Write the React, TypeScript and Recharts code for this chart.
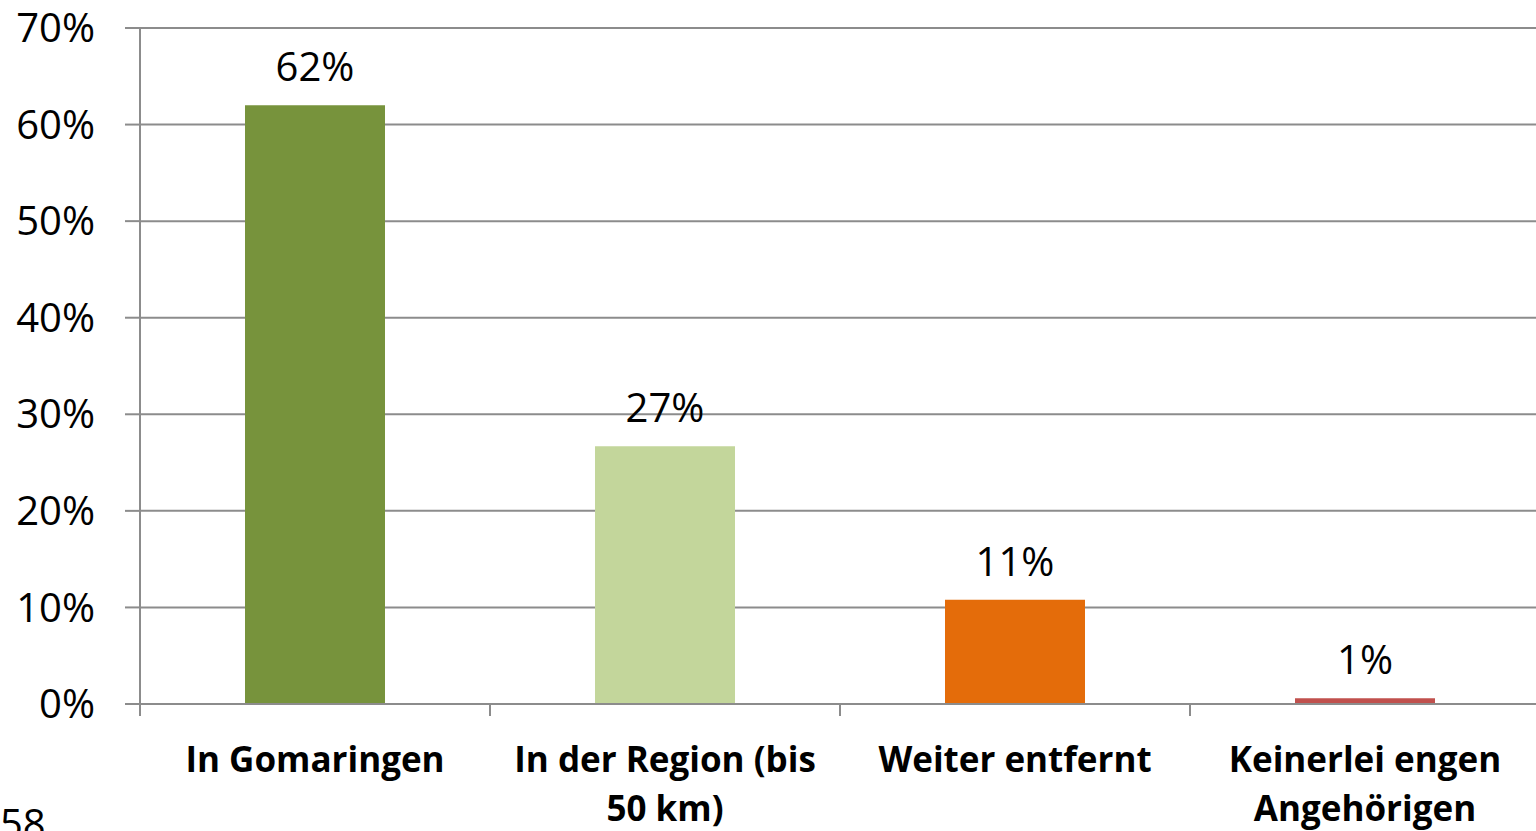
import { Bar, BarChart, CartesianGrid, Cell, LabelList, XAxis, YAxis } from "recharts";

const categories = ["In Gomaringen", "In der Region (bis 50 km)", "Weiter entfernt", "Keinerlei engen Angehörigen"];
const shares = [62, 26.7, 10.8, 0.6];
const barColors = ["#77933C", "#C3D69B", "#E46C0A", "#C0504D"];
const yTicks = [0, 10, 20, 30, 40, 50, 60, 70];
const pageNumber = "58";

const data = categories.map((name, i) => ({ name, value: shares[i] }));

const FONT = "'Open Sans', sans-serif";
const GRID = "#8c8c8c";
const TICK_FONT = `700 35px 'Open Sans'`;

let ctx: CanvasRenderingContext2D | null = null;
function wrapWords(text: string, maxWidth: number) {
  if (!ctx) ctx = document.createElement("canvas").getContext("2d");
  const measure = (s: string) => {
    if (!ctx) return s.length * 18;
    ctx.font = TICK_FONT;
    return ctx.measureText(s).width;
  };
  const lines: string[] = [];
  let cur = "";
  for (const w of text.split(" ")) {
    const next = cur ? `${cur} ${w}` : w;
    if (cur && measure(next) > maxWidth) {
      lines.push(cur);
      cur = w;
    } else cur = next;
  }
  if (cur) lines.push(cur);
  return lines;
}

function CategoryTick({ x, y, payload }: any) {
  const half = payload?.offset ?? 0;
  const lines = wrapWords(String(payload.value), 330);
  return (
    <g>
      <line x1={x - half} x2={x - half} y1={y} y2={y + 12} stroke={GRID} strokeWidth={2} />
      <text
        x={x}
        y={y + 68}
        textAnchor="middle"
        fill="#000"
        style={{ fontSize: 35, fontWeight: 700, fontFamily: FONT }}
      >
        {lines.map((l, i) => (
          <tspan key={i} x={x} dy={i === 0 ? 0 : 49}>
            {l}
          </tspan>
        ))}
      </text>
    </g>
  );
}

export default function App() {
  return (
    <div
      style={{
        position: "absolute",
        left: 0,
        top: 0,
        width: 1536,
        height: 831,
        overflow: "hidden",
        background: "#fff",
        fontFamily: FONT,
      }}
    >
      <BarChart
        width={1560}
        height={831}
        data={data}
        margin={{ top: 28, right: 20, left: 0, bottom: 27 }}
        barCategoryGap="30%"
      >
        <CartesianGrid vertical={false} stroke={GRID} strokeWidth={2} />
        <XAxis
          dataKey="name"
          height={100}
          tick={<CategoryTick />}
          tickLine={false}
          tickSize={0}
          tickMargin={0}
          axisLine={{ stroke: GRID, strokeWidth: 2 }}
          interval={0}
        />
        <YAxis
          width={140}
          domain={[0, 70]}
          ticks={yTicks}
          tickFormatter={(v: number) => `${v}%`}
          tick={{ fill: "#000", fontSize: 40, fontFamily: FONT }}
          tickSize={15}
          tickMargin={30}
          tickLine={{ stroke: GRID, strokeWidth: 2 }}
          axisLine={{ stroke: GRID, strokeWidth: 2 }}
        />
        <Bar dataKey="value" isAnimationActive={false}>
          {data.map((d, i) => (
            <Cell key={d.name} fill={barColors[i]} />
          ))}
          <LabelList
            dataKey="value"
            position="top"
            offset={24}
            formatter={(v: any) => `${Math.round(Number(v))}%`}
            style={{ fill: "#000", fontSize: 40, fontFamily: FONT }}
          />
        </Bar>
      </BarChart>
      <div
        style={{
          position: "absolute",
          left: 0,
          top: 803,
          fontSize: 40,
          lineHeight: 1,
          color: "#000",
        }}
      >
        {pageNumber}
      </div>
    </div>
  );
}
